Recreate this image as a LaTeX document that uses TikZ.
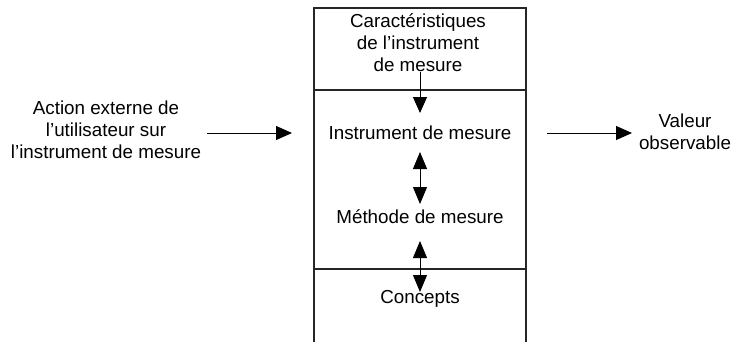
\documentclass[tikz,border=0pt]{standalone}
\usepackage{fontspec}
\setmainfont{Liberation Sans}
\usetikzlibrary{arrows.meta}
\begin{document}
\begin{tikzpicture}[x=1pt,y=-1pt,
  lbl/.style={inner sep=0pt,font=\fontsize{18.8}{22}\selectfont,align=center},
  frame/.style={line width=1.3pt,draw=black!85},
  conn/.style={line width=1pt,-{Triangle[length=16pt,width=14pt]}},
  dconn/.style={line width=1pt,{Triangle[length=17pt,width=14pt]}-{Triangle[length=17pt,width=14pt]}}]
\useasboundingbox (0,0) rectangle (734,341);
% frame
\coordinate (bl) at (314,343);
\coordinate (tl) at (314,8);
\coordinate (tr) at (526,8);
\coordinate (br) at (526,343);
\coordinate (d1l) at (314,90);
\coordinate (d1r) at (526,90);
\coordinate (d2l) at (314,269);
\coordinate (d2r) at (526,269);
\draw[frame] (bl) -- (tl) -- (tr) -- (br);
\draw[frame] (d1l) -- (d1r);
\draw[frame] (d2l) -- (d2r);
% texts
\node[lbl] (car) at (418,43) {Caractéristiques\\de l’instrument\\de mesure};
\node[lbl] (inst) at (420,133) {Instrument de mesure};
\node[lbl] (meth) at (420,217) {Méthode de mesure};
\node[lbl] (conc) at (420,299) {Concepts};
\node[lbl] (act) at (106,130) {Action externe de\\l’utilisateur sur\\l’instrument de mesure};
\node[lbl] (val) at (685,132) {Valeur\\observable};
% arrows
\coordinate (a1s) at (420,72);
\coordinate (a1e) at (420,113);
\coordinate (a2s) at (420,152);
\coordinate (a2e) at (420,204);
\coordinate (a3s) at (420,241);
\coordinate (a3e) at (420,292);
\coordinate (hls) at (207,133);
\coordinate (hle) at (292,133);
\coordinate (hrs) at (547,133);
\coordinate (hre) at (632,133);
\draw[conn] (a1s) -- (a1e);
\draw[dconn] (a2s) -- (a2e);
\draw[dconn] (a3s) -- (a3e);
\draw[conn] (hls) -- (hle);
\draw[conn] (hrs) -- (hre);
\end{tikzpicture}
\end{document}
